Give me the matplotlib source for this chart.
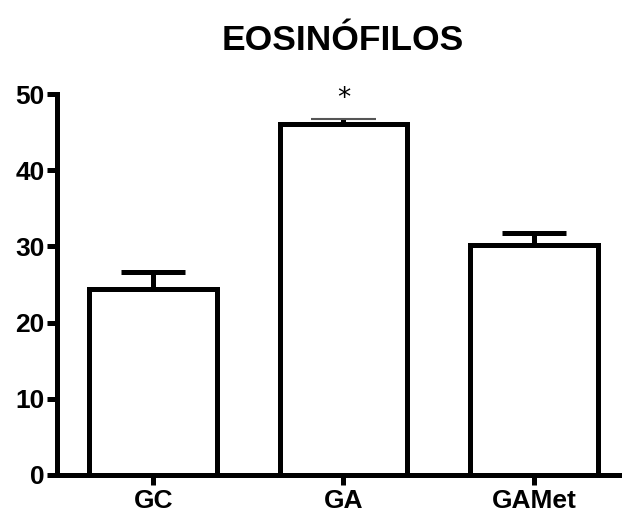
import matplotlib
matplotlib.use("Agg")
import matplotlib.pyplot as plt
import numpy as np

plt.rcParams['font.family'] = ['Liberation Sans', 'DejaVu Sans']

groups = ["GC", "GA", "GAMet"]
means = [24.4, 46.1, 30.2]
sems = [2.2, 0.6, 1.6]
yticks = [0, 10, 20, 30, 40, 50]
title = "EOSINÓFILOS"
sig_marks = ["", "*", ""]

fig = plt.figure(figsize=(6.22, 5.16), dpi=100)
ax = fig.add_axes([57/622, 41/516, 1 - 57/622, (475-94)/516])

x = np.arange(len(groups))
lw = 3.6
ax.bar(x, means, width=0.67, facecolor="white", edgecolor="black",
       linewidth=lw, zorder=2, joinstyle="miter")

for i in range(len(groups)):
    if i == 1:
        ax.errorbar(x[i], means[i], yerr=[[0], [sems[i]]], fmt="none",
                    ecolor="black", elinewidth=lw, capsize=0, zorder=3)
        ax.hlines(means[i] + sems[i], x[i] - 0.17, x[i] + 0.17,
                  color="#555555", linewidth=1.5, zorder=3)
    else:
        ax.errorbar(x[i], means[i], yerr=[[0], [sems[i]]], fmt="none",
                    ecolor="black", elinewidth=lw, capsize=23, capthick=lw,
                    zorder=3)
    if sig_marks[i]:
        ax.text(x[i], means[i] + sems[i] + 0.9, sig_marks[i], ha="center",
                va="bottom", fontsize=19, family="DejaVu Sans")

ax.set_xlim(-0.505, 2.463)
ax.set_ylim(0, 50)
ax.set_yticks(yticks)
ax.set_xticks(x)
ax.set_xticklabels(groups)

for s in ["top", "right"]:
    ax.spines[s].set_visible(False)
for s in ["left", "bottom"]:
    ax.spines[s].set_linewidth(lw)
    ax.spines[s].set_capstyle("projecting")

ax.tick_params(axis="y", length=7, width=lw, labelsize=19, pad=2)
ax.tick_params(axis="x", length=7, width=lw, labelsize=19, pad=3)
for lab in ax.get_xticklabels() + ax.get_yticklabels():
    lab.set_fontweight("bold")

fig.text(343/622, 1 - 40/516, title, ha="center", va="center",
         fontsize=25.5, fontweight="bold")

fig.savefig("out.png", dpi=100)
